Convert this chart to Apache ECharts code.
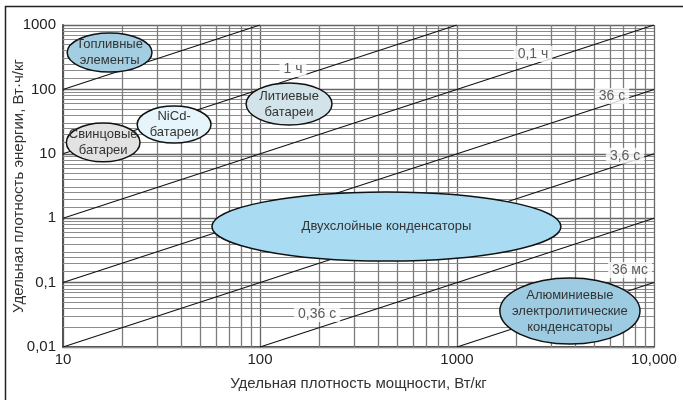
<!DOCTYPE html>
<html>
<head>
<meta charset="utf-8">
<script src="https://cdn.jsdelivr.net/npm/echarts@6/dist/echarts.min.js"></script>
<style>
  html, body { margin: 0; padding: 0; background: #fff; }
  #chart { width: 683px; height: 400px; }
</style>
</head>
<body>
<div id="chart"></div>
<script>
// tick labels
var xTickLabels = ["10", "100", "1000", "10,000"];
var yTickLabels = ["0,01", "0,1", "1", "10", "100", "1000"];

// log-paper grid lines (multipliers inside each decade)
var xMinorMult = [2, 3, 4, 5, 6, 7, 8, 9];
var xDecades = [10, 100, 1000];
var yMinorMult = [1.5, 2, 2.5, 3, 4, 5, 6, 7, 8, 9];
var yDecades = [0.01, 0.1, 1, 10, 100];

// constant-time lines, endpoints [power, energy]
var timeLines = [
  [[10, 100], [100, 1000]],
  [[10, 10], [1000, 1000]],
  [[10, 1], [10000, 1000]],
  [[10, 0.1], [10000, 100]],
  [[10, 0.01], [10000, 10]],
  [[100, 0.01], [10000, 1]],
  [[1000, 0.01], [10000, 0.1]]
];
var timeLabelNames = ["1 ч", "0,1 ч", "36 с", "3,6 с", "0,36 с", "36 мс"];
var timeLabelPos = [[147, 207], [2430, 355], [6120, 79], [7130, 9.3], [195, 0.0325], [7550, 0.157]];

// regions: [xMin, xMax, yMax, yMin]
var regionNames = ["Топливные\nэлементы", "Свинцовые\nбатареи", "NiCd-\nбатареи", "Литиевые\nбатареи",
  "Двухслойные конденсаторы", "Алюминиевые\nэлектролитические\nконденсаторы"];
var regionBox = [
  [10.5, 28.3, 751, 186],
  [10.4, 24.6, 30, 7.5],
  [23.8, 56.4, 55, 14.7],
  [85, 232, 126, 28],
  [57, 3370, 2.55, 0.216],
  [1650, 8490, 0.118, 0.0111]
];
var regionColors = ["#a3cee2", "#e2e2e2", "#e6f5fb", "#d3e3ea", "#a9dcf3", "#9dcbe2"];

var chart = echarts.init(document.getElementById("chart"));
var font = "Liberation Sans";

var vLines = [], hLines = [];
xDecades.forEach(function (d) {
  xMinorMult.forEach(function (m) { vLines.push({ xAxis: d * m }); });
});
yDecades.forEach(function (d) {
  yMinorMult.forEach(function (m) { hLines.push({ yAxis: d * m }); });
});

function gridSeries(lines, color, width) {
  return {
    type: "line",
    data: [],
    silent: true,
    z: 1,
    markLine: {
      z: 1,
      silent: true,
      symbol: "none",
      animation: false,
      label: { show: false },
      lineStyle: { color: color, width: width, type: "solid" },
      data: lines
    }
  };
}

var series = [];
series.push(gridSeries(hLines, "#8c8c8c", 1));
series.push(gridSeries(vLines, "#7c7c7c", 1.3));
timeLines.forEach(function (pts) {
  series.push({
    type: "line",
    data: pts,
    symbol: "none",
    silent: true,
    z: 2,
    lineStyle: { color: "#111", width: 1.1 }
  });
});
series.push({
  type: "custom",
  z: 3,
  silent: true,
  data: regionBox.map(function (b, i) { return [b[0], b[1], b[2], b[3], i]; }),
  renderItem: function (params, api) {
    var p1 = api.coord([api.value(0), api.value(2)]);
    var p2 = api.coord([api.value(1), api.value(3)]);
    var i = api.value(4);
    var cx = (p1[0] + p2[0]) / 2, cy = (p1[1] + p2[1]) / 2;
    return {
      type: "group",
      children: [{
        type: "ellipse",
        shape: { cx: cx, cy: cy, rx: Math.abs(p2[0] - p1[0]) / 2, ry: Math.abs(p2[1] - p1[1]) / 2 },
        style: { fill: regionColors[i], stroke: "#111", lineWidth: 1.5 }
      }, {
        type: "text",
        x: cx, y: cy,
        style: {
          text: regionNames[i], fill: "#333", font: "13px " + font,
          align: "center", verticalAlign: "middle", lineHeight: 16
        }
      }]
    };
  }
});
series.push({
  type: "scatter",
  z: 4,
  silent: true,
  symbolSize: 0,
  data: timeLabelPos.map(function (p, i) { return { value: p, name: timeLabelNames[i] }; }),
  label: {
    show: true,
    position: "inside",
    formatter: "{b}",
    color: "#333",
    fontSize: 14,
    fontFamily: font,
    backgroundColor: "#fff",
    padding: [1, 4]
  }
});

var option = {
  animation: false,
  textStyle: { fontFamily: font },
  grid: { left: 63, right: 29, top: 25, bottom: 53, containLabel: false, outerBoundsMode: "none" },
  graphic: [{
    type: "rect",
    shape: { x: 5.5, y: 6.5, width: 720, height: 440 },
    style: { fill: "none", stroke: "#222", lineWidth: 1.5 },
    silent: true
  }],
  xAxis: {
    type: "log",
    logBase: 10,
    min: 10,
    max: 10000,
    name: "Удельная плотность мощности, Вт/кг",
    nameLocation: "middle",
    nameGap: 29,
    nameMoveOverlap: false,
    nameTextStyle: { color: "#333", fontSize: 15, fontFamily: font },
    axisLine: { show: true, lineStyle: { color: "#555", width: 2 } },
    axisTick: { show: false },
    axisLabel: {
      color: "#222", fontSize: 15, margin: 5,
      formatter: function (v, i) { return xTickLabels[i]; }
    },
    splitLine: { show: true, lineStyle: { color: "#666", width: 1.3 } }
  },
  yAxis: {
    type: "log",
    logBase: 10,
    min: 0.01,
    max: 1000,
    name: "Удельная плотность энергии, Вт·ч/кг",
    nameLocation: "middle",
    nameGap: 37,
    nameMoveOverlap: false,
    nameTextStyle: { color: "#333", fontSize: 15, fontFamily: font },
    axisLine: { show: true, lineStyle: { color: "#555", width: 2 } },
    axisTick: { show: false },
    axisLabel: {
      color: "#222", fontSize: 15, margin: 7,
      formatter: function (v, i) { return yTickLabels[i]; }
    },
    splitLine: { show: true, lineStyle: { color: "#666", width: 1.3 } }
  },
  series: series
};
chart.setOption(option);
</script>
</body>
</html>
